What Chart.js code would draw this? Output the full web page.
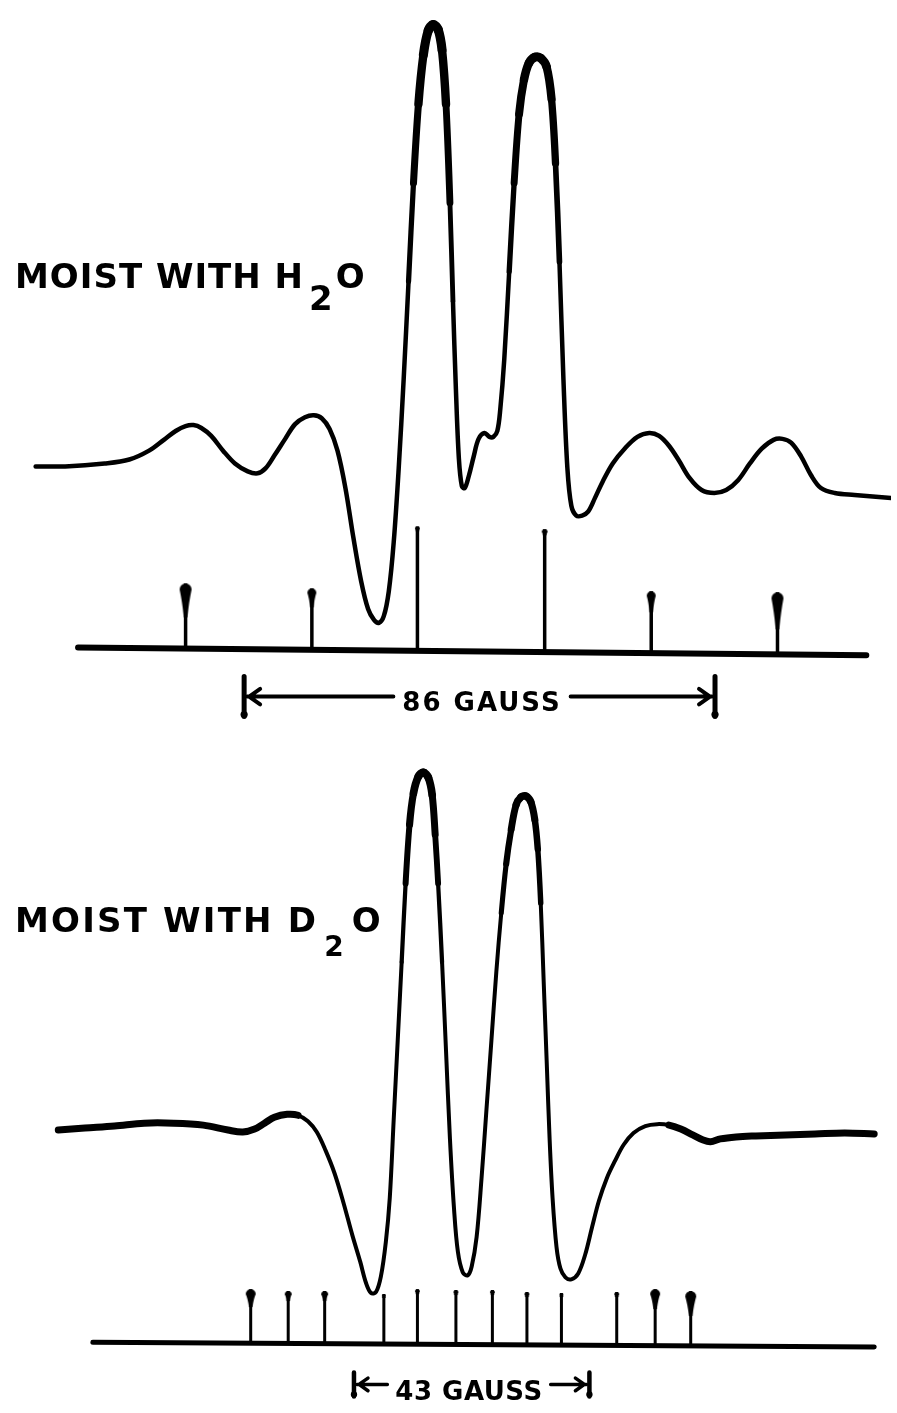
<!DOCTYPE html>
<html>
<head>
<meta charset="utf-8">
<script src="https://cdn.jsdelivr.net/npm/chart.js@4/dist/chart.umd.min.js"></script>
<style>
  html, body { margin: 0; padding: 0; background: #fff; }
  #wrap { position: relative; width: 897px; height: 1413px; overflow: hidden; background: #fff; }
  canvas { position: absolute; left: 0; }
  .lbl { position: absolute; font-family: "DejaVu Sans", sans-serif; font-weight: bold; font-size: 34px;
         line-height: 40px; letter-spacing: 1px; color: #000; white-space: nowrap; }
  .gauss { position: absolute; font-family: "DejaVu Sans", sans-serif; font-weight: bold; font-size: 26px;
           line-height: 30px; color: #000; white-space: nowrap; transform: translateX(-50%); }
</style>
</head>
<body>
<div id="wrap">
  <canvas id="c1" width="897" height="740" style="top:0px"></canvas>
  <canvas id="c2" width="897" height="673" style="top:740px"></canvas>
  <div class="lbl" style="left:15px;top:256px">MOIST WITH H<span style="position:relative;top:22px;margin-left:5px;margin-right:2px">2</span>O</div>
  <div class="lbl" style="left:15px;top:900px;letter-spacing:2.2px">MOIST WITH D<span style="position:relative;top:24px;font-size:28px;margin-left:6px;margin-right:6px">2</span>O</div>
  <div id="g1" class="gauss" style="left:482px;top:687px;letter-spacing:2px">86 GAUSS</div>
  <div id="g2" class="gauss" style="left:469px;top:1376px;letter-spacing:0.5px">43 GAUSS</div>
</div>
<script>
// ---- field axis (gauss) shared by both panels ----
const fieldMin = -86.49;
const fieldMax = 75.14;

// ---- top panel: moist with H2O (derivative signal, arbitrary units) ----
const topField = [-81.08,-75.68,-68.47,-63.96,-60.36,-57.66,-55.50,-53.69,-52.25,-50.81,-49.01,-46.85,-44.68,-42.34,-40.54,-39.10,-37.48,-35.50,-33.69,-31.89,-30.27,-28.83,-27.39,-25.95,-24.50,-23.06,-21.62,-20.36,-19.28,-18.38,-17.48,-16.58,-15.68,-14.77,-13.87,-12.97,-12.07,-11.17,-10.27,-9.37,-8.47,-7.57,-6.85,-6.13,-5.41,-4.86,-4.32,-3.78,-3.24,-2.70,-1.98,-1.08,-0.18,0.90,1.80,2.52,3.24,3.78,4.50,5.41,6.31,7.21,8.11,9.01,10.09,11.17,12.25,13.15,13.87,14.59,15.32,16.04,16.76,17.66,18.74,19.82,21.08,22.52,24.32,26.49,28.83,30.99,32.79,34.59,36.40,38.38,40.54,42.88,45.05,47.21,49.37,51.53,53.69,55.32,56.94,58.74,60.54,62.34,64.86,68.47,75.14];
const topSignal = [0,0,0.6,1.4,3.2,5.4,7.2,8.2,8.4,7.8,6.2,3.2,0.6,-1.0,-1.4,-0.4,2.2,5.6,8.6,10.0,10.4,9.8,7.6,3.2,-4.4,-14.4,-23.4,-29.0,-31.2,-31.8,-30.4,-25.4,-15.4,-0.4,17.6,37.6,57.6,73.6,83.6,88.6,89.8,88.8,84.6,73.6,53.6,33.6,15.6,1.6,-4.0,-4.4,-2.0,2.0,5.6,6.8,6.0,6.0,7.2,11.6,21.6,39.6,57.6,71.6,78.6,82.0,83.2,83.0,81.2,74.6,61.6,41.6,17.6,-0.4,-8.0,-10.0,-10.0,-9.2,-6.4,-3.0,0.6,3.6,6.0,6.8,6.2,4.2,1.2,-2.4,-4.8,-5.4,-4.8,-2.8,0.6,3.6,5.4,5.6,4.8,2.0,-1.8,-4.4,-5.4,-5.8,-6.4];
const topStickField = [-53.69,-30.63,-11.35,11.89,31.35,54.41];
const topStickTop = [-23.8,-24.8,-12.2,-12.8,-25.4,-25.6];
const topBaseField = [-73.33,70.63];
const topBaseLevel = [-36.8,-38.4];
const topBarCenter = 0;
const topBarSpan = 86;
const topBarLevel = -46.8;

// ---- bottom panel: moist with D2O ----
const botField = [-76.94,-72.07,-66.67,-61.26,-55.86,-50.45,-45.95,-43.24,-41.08,-39.28,-37.48,-35.14,-33.15,-31.35,-29.73,-28.11,-26.49,-24.86,-23.24,-21.80,-20.72,-19.82,-18.92,-18.02,-17.12,-16.40,-15.68,-14.95,-14.23,-13.51,-12.79,-12.07,-11.17,-10.27,-9.37,-8.65,-8.11,-7.57,-6.85,-6.13,-5.41,-4.68,-3.96,-3.06,-2.16,-1.44,-0.54,0.36,1.26,2.16,3.06,3.96,4.86,5.77,6.67,7.57,8.47,9.37,10.09,10.63,11.17,11.71,12.25,12.79,13.33,14.05,14.77,15.68,16.76,18.02,19.28,20.54,21.80,23.24,24.68,26.31,28.11,30.27,32.43,34.59,36.76,38.92,40.72,42.16,43.96,46.85,50.45,55.86,61.26,66.67,72.07];
const botSignal = [-0.2,0.2,0.6,1.2,1.2,0.8,-0.2,-0.6,0,1.2,2.4,3.0,2.8,1.6,-0.6,-4.4,-9.0,-15.0,-21.6,-27.0,-31.4,-33.4,-33.2,-30.0,-23.0,-14.0,2.0,18.0,34.0,50.0,62.0,68.4,71.8,72.6,71.6,68.0,60.0,50.0,34.0,16.0,-2.0,-16.0,-25.0,-29.2,-29.8,-28.0,-22.0,-10.0,4.0,18.0,32.0,44.0,54.0,61.0,66.0,67.6,67.8,66.6,63.0,57.0,46.0,30.0,14.0,-2.0,-14.0,-24.0,-28.4,-30.2,-30.6,-29.4,-25.6,-20.0,-14.6,-10.0,-6.6,-3.2,-0.8,0.6,1.0,0.8,0,-1.2,-2.2,-2.6,-2.0,-1.6,-1.4,-1.2,-1.0,-0.8,-1.0];
const botStickField = [-41.80,-34.95,-28.29,-17.48,-11.35,-4.32,2.34,8.65,14.95,25.05,32.07,38.56];
const botStickTop = [-32.6,-33.0,-33.0,-33.6,-32.6,-32.8,-32.8,-33.2,-33.4,-33.2,-32.6,-33.0];
const botBaseField = [-70.63,72.07];
const botBaseLevel = [-43.4,-44.4];
const botBarCenter = -1.44;
const botBarSpan = 43;
const botBarLevel = -52;

// ---- style (not data) ----
const topHeads = [[6,22],[4.5,10],[2.5,0],[3,0],[4.5,12],[6,25]];
const botHeads = [[5,8],[3.5,3],[3.5,3],[2,0],[2.5,0],[2.5,0],[2.5,0],[2.5,0],[2,0],[2.5,0],[5,10],[5.5,14]];

function makeDrop(r, len) {
  const total = 2 * r + len;
  const c = document.createElement('canvas');
  c.width = Math.ceil(2 * r + 4);
  c.height = Math.ceil(2 * total + 4);
  const g = c.getContext('2d');
  const cx = c.width / 2, top = c.height / 2;
  g.fillStyle = '#000';
  g.beginPath();
  g.arc(cx, top + r, r, Math.PI, 0);
  g.quadraticCurveTo(cx + r * 0.6, top + r + len * 0.5, cx + 1.7, top + total);
  g.lineTo(cx - 1.7, top + total);
  g.quadraticCurveTo(cx - r * 0.6, top + r + len * 0.5, cx - r, top + r);
  g.closePath();
  g.fill();
  return c;
}

function interp(xs, ys, x) {
  return ys[0] + (ys[1] - ys[0]) * (x - xs[0]) / (xs[1] - xs[0]);
}

const scaleBar = {
  id: 'scaleBar',
  afterDatasetsDraw(chart, args, o) {
    const ctx = chart.ctx;
    const xs = chart.scales.x, ys = chart.scales.y;
    const x1 = xs.getPixelForValue(o.center - o.span / 2);
    const x2 = xs.getPixelForValue(o.center + o.span / 2);
    const yy = ys.getPixelForValue(o.level);
    const lab = document.getElementById(o.label).getBoundingClientRect();
    const cr = chart.canvas.getBoundingClientRect();
    const gl = lab.left - cr.left - o.gap, gr = lab.right - cr.left + o.gap;
    ctx.save();
    ctx.strokeStyle = '#000';
    ctx.fillStyle = '#000';
    ctx.lineCap = 'round';
    ctx.lineJoin = 'round';
    ctx.lineWidth = o.width;
    ctx.beginPath();
    ctx.moveTo(x1 + 3, yy); ctx.lineTo(gl, yy);
    ctx.moveTo(gr, yy); ctx.lineTo(x2 - 3, yy);
    ctx.moveTo(x1 + 5 + o.head, yy - o.head * 0.7); ctx.lineTo(x1 + 5, yy); ctx.lineTo(x1 + 5 + o.head, yy + o.head * 0.7);
    ctx.moveTo(x2 - 5 - o.head, yy - o.head * 0.7); ctx.lineTo(x2 - 5, yy); ctx.lineTo(x2 - 5 - o.head, yy + o.head * 0.7);
    ctx.stroke();
    ctx.lineWidth = o.width + 1;
    ctx.beginPath();
    ctx.moveTo(x1, yy - o.bar); ctx.lineTo(x1, yy + o.bar);
    ctx.moveTo(x2, yy - o.bar); ctx.lineTo(x2, yy + o.bar);
    ctx.stroke();
    ctx.beginPath(); ctx.arc(x1, yy + o.bar - 2, o.width * 0.9, 0, Math.PI * 2); ctx.fill();
    ctx.beginPath(); ctx.arc(x2, yy + o.bar - 2, o.width * 0.9, 0, Math.PI * 2); ctx.fill();
    ctx.restore();
  }
};

function build(id, p) {
  const curve = p.field.map((x, i) => ({ x: x, y: p.signal[i] }));
  const sticks = [];
  p.stickField.forEach((x, i) => {
    sticks.push({ x: x, y: interp(p.baseField, p.baseLevel, x) });
    sticks.push({ x: x, y: p.stickTop[i] });
    sticks.push({ x: x, y: null });
  });
  const heads = p.stickField.map((x, i) => ({ x: x, y: p.stickTop[i] }));
  const drops = p.heads.map(h => makeDrop(h[0], h[1]));
  const base = p.baseField.map((x, i) => ({ x: x, y: p.baseLevel[i] }));
  return new Chart(document.getElementById(id), {
    type: 'line',
    data: {
      datasets: [
        { data: base, borderColor: '#000', borderWidth: p.baseWidth, pointRadius: 0, tension: 0, borderCapStyle: 'round' },
        { data: sticks, borderColor: '#000', borderWidth: p.stickWidth, pointRadius: 0, tension: 0, spanGaps: false, borderCapStyle: 'butt' },
        { data: heads, showLine: false, pointStyle: drops, pointRadius: 6, pointBackgroundColor: '#000', pointBorderWidth: 0 },
        { data: curve, borderColor: '#000', borderWidth: 5, pointRadius: 0, tension: 0.35,
          borderCapStyle: 'round', borderJoinStyle: 'round',
          segment: { borderWidth: c => p.widthFn((c.p0.parsed.y + c.p1.parsed.y) / 2, (c.p0.parsed.x + c.p1.parsed.x) / 2) } }
      ]
    },
    options: {
      responsive: false,
      animation: false,
      events: [],
      layout: { padding: 0 },
      plugins: { legend: { display: false }, tooltip: { enabled: false }, scaleBar: p.bar },
      scales: {
        x: { type: 'linear', min: fieldMin, max: fieldMax, display: false },
        y: { type: 'linear', min: p.yMin, max: p.yMax, display: false }
      }
    },
    plugins: [scaleBar]
  });
}

build('c1', {
  field: topField, signal: topSignal, stickField: topStickField, stickTop: topStickTop,
  baseField: topBaseField, baseLevel: topBaseLevel, heads: topHeads,
  baseWidth: 6, stickWidth: 3.5, yMin: -54.4, yMax: 93.6,
  widthFn: (y, x) => y > 40 ? 4.5 + (y - 40) / 10 : 4.5,
  bar: { center: topBarCenter, span: topBarSpan, level: topBarLevel, label: 'g1', gap: 9, width: 4, head: 11, bar: 20 }
});
build('c2', {
  field: botField, signal: botSignal, stickField: botStickField, stickTop: botStickTop,
  baseField: botBaseField, baseLevel: botBaseLevel, heads: botHeads,
  baseWidth: 5, stickWidth: 3, yMin: -56.6, yMax: 78,
  widthFn: (y, x) => y > 40 ? 4 + (y - 40) / 8 : (Math.abs(x) > 34 ? 7 : 4),
  bar: { center: botBarCenter, span: botBarSpan, level: botBarLevel, label: 'g2', gap: 8, width: 3.5, head: 9, bar: 12 }
});
</script>
</body>
</html>
